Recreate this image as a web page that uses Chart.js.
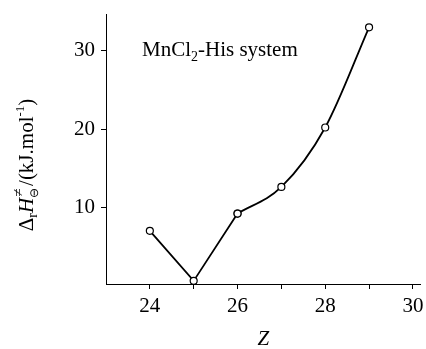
<!DOCTYPE html>
<html>
<head>
<meta charset="utf-8">
<script src="https://cdn.jsdelivr.net/npm/chart.js@4/dist/chart.umd.min.js"></script>
<style>
  html, body { margin: 0; padding: 0; background: #fff; }
  #wrap { width: 426px; height: 349px; position: relative; }
</style>
</head>
<body>
<div id="wrap"><canvas id="chart"></canvas></div>
<script>
// Z (atomic number) and activation enthalpy values
const zValues = [24, 25, 26, 27, 28, 29];
const dH = [7.0, 0.6, 9.2, 12.6, 20.2, 33.0];
const xTicks = [24, 25, 26, 27, 28, 29, 30];
const xLabels = ['24', '', '26', '', '28', '', '30'];
const yTicks = [10, 20, 30];

const FONT = "'Liberation Serif', 'Times New Roman', serif";

const pts = zValues.map((z, i) => ({ x: z, y: dH[i] }));

// y title and annotation with sub/superscripts
const textPlugin = {
    id: 'texts',
    afterDraw(chart) {
        const ctx = chart.ctx;
        ctx.save();
        ctx.fillStyle = '#000';
        ctx.textBaseline = 'alphabetic';

        // annotation inside the plot
        let x = 142, y = 56;
        ctx.font = '21px ' + FONT;
        ctx.fillText('MnCl', x, y);
        x += ctx.measureText('MnCl').width;
        ctx.font = '14px ' + FONT;
        ctx.fillText('2', x, y + 5);
        x += ctx.measureText('2').width;
        ctx.font = '21px ' + FONT;
        ctx.fillText('-His system', x, y);

        // rotated y axis title
        const parts = [
            { t: 'Δ', f: '21px ' + FONT, dy: 0 },
            { t: 'r', f: '14px ' + FONT, dy: 4 },
            { t: 'H', f: 'italic 21px ' + FONT, dy: 0 },
            { stack: true },
            { t: '/(kJ.mol', f: '21px ' + FONT, dy: 0 },
            { t: '-1', f: '13px ' + FONT, dy: -9 },
            { t: ')', f: '21px ' + FONT, dy: 0 }
        ];
        let total = 0;
        parts.forEach(p => {
            if (p.stack) { p.w = 12; }
            else { ctx.font = p.f; p.w = ctx.measureText(p.t).width; }
            total += p.w;
        });
        ctx.translate(33, 165);
        ctx.rotate(-Math.PI / 2);
        let px = -total / 2;
        parts.forEach(p => {
            if (p.stack) {
                ctx.font = 'italic 15px ' + FONT;
                ctx.fillText('≠', px + 1, -10);
                ctx.font = '12px ' + FONT;
                ctx.fillText('⊖', px, 5);
            } else {
                ctx.font = p.f;
                ctx.fillText(p.t, px, p.dy);
            }
            px += p.w;
        });
        ctx.restore();
    }
};

new Chart(document.getElementById('chart'), {
    type: 'line',
    data: {
        datasets: [
            {
                data: pts.slice(0, 3),
                borderColor: '#000',
                borderWidth: 1.8,
                tension: 0,
                pointRadius: 3.5,
                pointBackgroundColor: '#fff',
                pointBorderColor: '#000',
                pointBorderWidth: 1.2
            },
            {
                data: pts.slice(2),
                borderColor: '#000',
                borderWidth: 1.8,
                cubicInterpolationMode: 'monotone',
                pointRadius: 3.5,
                pointBackgroundColor: '#fff',
                pointBorderColor: '#000',
                pointBorderWidth: 1.2
            }
        ]
    },
    options: {
        responsive: true,
        maintainAspectRatio: false,
        animation: false,
        layout: { padding: { left: 0, right: 3, top: 14, bottom: 0 } },
        plugins: {
            legend: { display: false },
            tooltip: { enabled: false }
        },
        scales: {
            x: {
                type: 'linear',
                min: 23,
                max: 30.18,
                afterBuildTicks: s => { s.ticks = xTicks.map(v => ({ value: v })); },
                afterFit: s => { s.height = 65; s.paddingRight = 0; s.paddingLeft = 0; },
                grid: { drawOnChartArea: false, drawTicks: true, tickLength: 5, color: '#000', lineWidth: 1 },
                border: { color: '#000', width: 1 },
                ticks: {
                    color: '#000',
                    padding: 5,
                    maxRotation: 0,
                    autoSkip: false,
                    font: { family: FONT, size: 21 },
                    callback: v => xLabels[xTicks.indexOf(v)]
                },
                title: {
                    display: true,
                    text: 'Z',
                    color: '#000',
                    font: { family: FONT, size: 21, style: 'italic' },
                    padding: { top: 0, bottom: -3 }
                }
            },
            y: {
                min: 0.2,
                max: 34.7,
                afterBuildTicks: s => { s.ticks = yTicks.map(v => ({ value: v })); },
                afterFit: s => { s.width = 106; s.paddingTop = 0; s.paddingBottom = 0; },
                grid: { drawOnChartArea: false, drawTicks: true, tickLength: 5, color: '#000', lineWidth: 1 },
                border: { color: '#000', width: 1 },
                ticks: {
                    color: '#000',
                    padding: 6,
                    font: { family: FONT, size: 21 }
                }
            }
        }
    },
    plugins: [textPlugin]
});
</script>
</body>
</html>
